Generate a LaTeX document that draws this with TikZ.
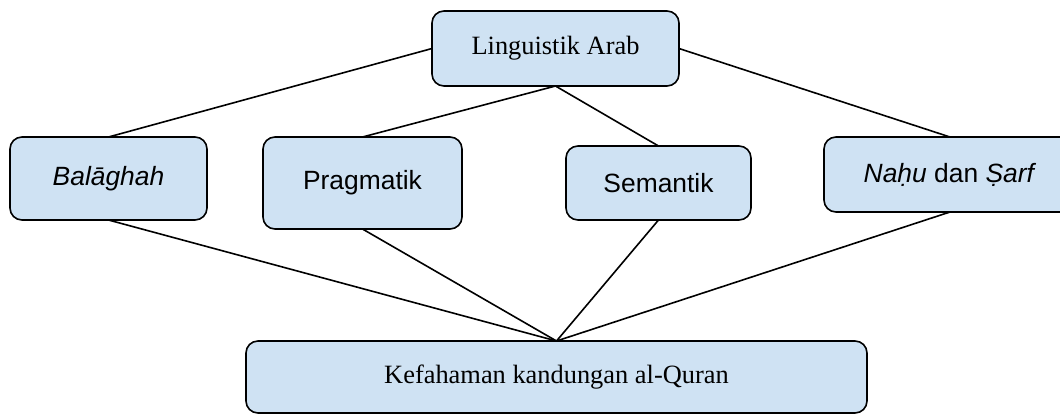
\documentclass[tikz,border=0pt]{standalone}
\usepackage{fontspec}
\setmainfont{Liberation Serif}
\setsansfont{Liberation Sans}
\usetikzlibrary{positioning}
\definecolor{boxblue}{HTML}{CFE2F3}

\begin{document}
\begin{tikzpicture}
    [
        x=0.5pt, y=-0.5pt,
        topic/.style = {
            draw=black, line width=0.8pt, fill=boxblue, rounded corners=6pt,
            inner sep=0pt, outer sep=0pt, font=\fontsize{13.2}{16}\selectfont
        },
        branch/.style = {
            topic, font=\sffamily\fontsize{13.2}{16}\selectfont
        },
        link/.style = {
            draw=black, line width=0.8pt
        },
    ]
    \useasboundingbox (0,0) rectangle (1060,414);
    \clip (0,0) rectangle (1060,414);
    %\draw[help lines] (0,0) grid (1060,414);
    \node[topic, minimum width=123.5pt, minimum height=37.5pt] (arab) at (555.5,48.5) {\raisebox{-1.5pt}{Linguistik Arab}};
    \node[branch, minimum width=98.5pt, minimum height=41.5pt] (balaghah) at (108.5,178.5) {\itshape Balāghah};
    \node[branch, minimum width=99.5pt, minimum height=46pt] (pragmatik) at (362.5,183) {Pragmatik};
    \node[branch, minimum width=92.5pt, minimum height=37pt] (semantik) at (658.5,183) {\raisebox{-1pt}{Semantik}};
    \node[branch, minimum width=126pt, minimum height=37.5pt] (nahu) at (950,174.5) {\textit{Naḥu} dan \textit{Ṣarf}};
    \node[topic, minimum width=310.5pt, minimum height=36pt] (quran) at (556.5,377) {\raisebox{-2pt}{Kefahaman kandungan al-Quran}};
    \draw[link] (arab.west) -- (balaghah.north);
    \draw[link] (arab.south) -- (pragmatik.north);
    \draw[link] (arab.south) -- (semantik.north);
    \draw[link] (arab.east) -- (nahu.north);
    \draw[link] (balaghah.south) -- (quran.north);
    \draw[link] (pragmatik.south) -- (quran.north);
    \draw[link] (semantik.south) -- (quran.north);
    \draw[link] (nahu.south) -- (quran.north);
\end{tikzpicture}
\end{document}
